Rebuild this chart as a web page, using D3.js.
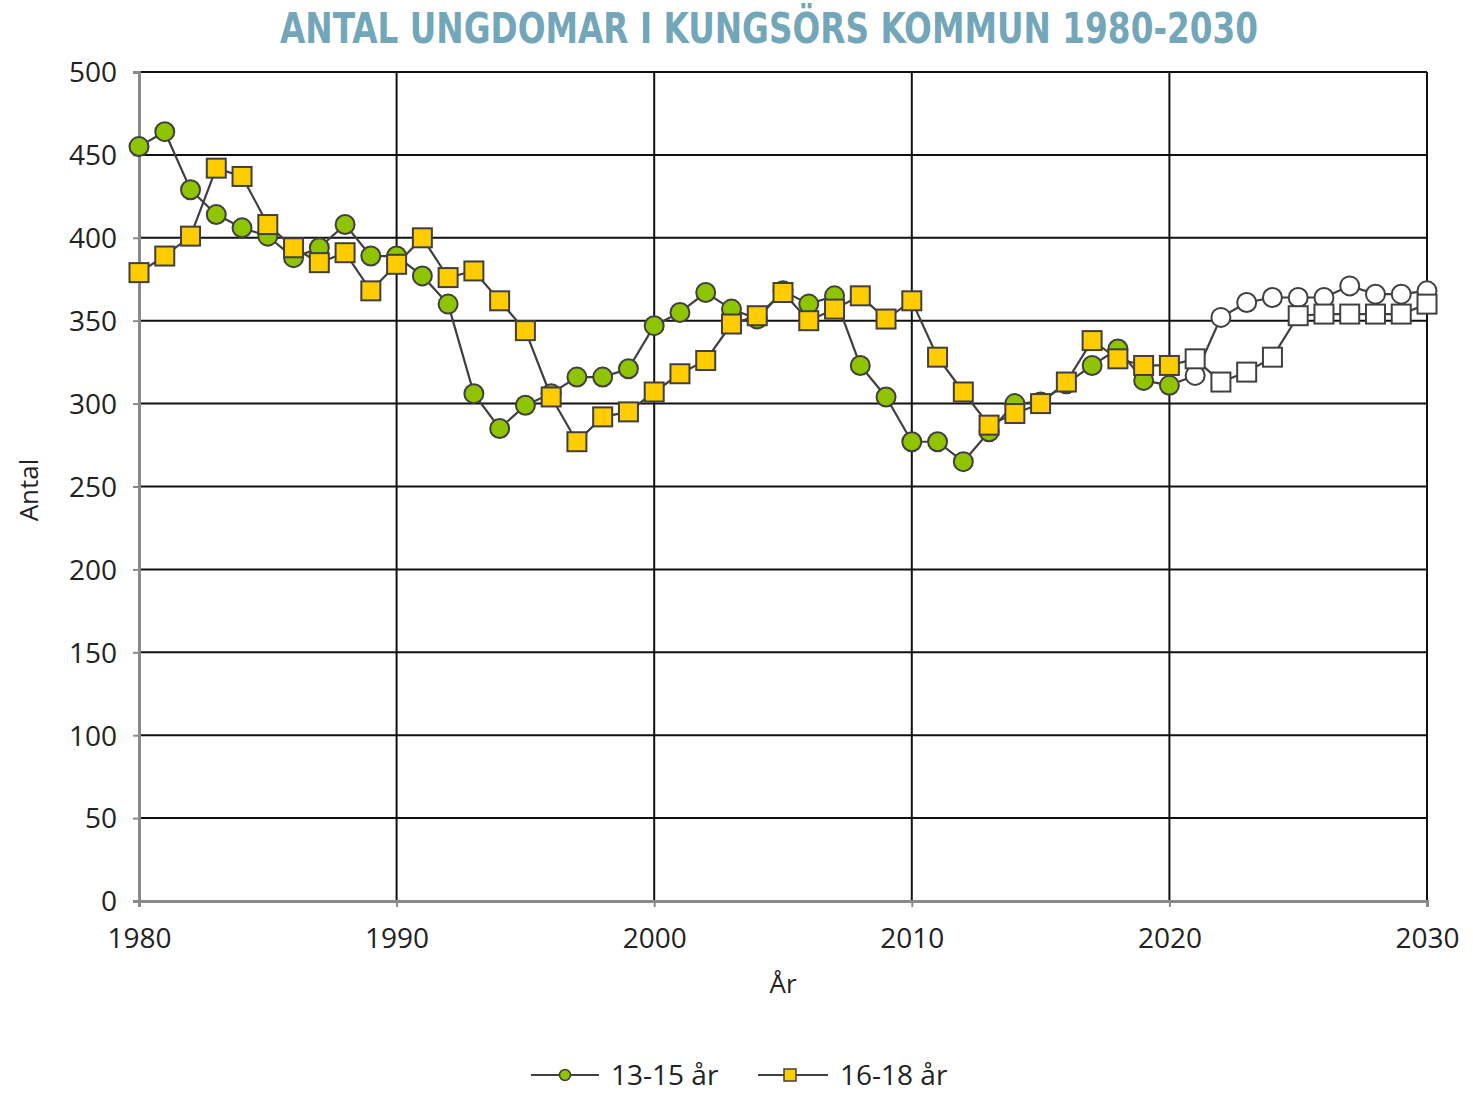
<!DOCTYPE html>
<html><head><meta charset="utf-8">
<script src="https://cdn.jsdelivr.net/npm/d3@7"></script>
<style>body{margin:0;background:#fff}</style>
</head><body>
<script>
const years = d3.range(1980, 2031);
const lastActual = 2020;
const age1315 = [455,464,429,414,406,401,388,394,408,389,389,377,360,306,285,299,306,316,316,321,347,355,367,357,351,368,360,365,323,304,277,277,265,283,300,301,312,323,333,314,311,317,352,361,364,364,364,371,366,366,368];
const age1618 = [379,389,401,442,437,408,394,385,391,368,384,400,376,380,362,344,304,277,292,295,307,318,326,348,353,367,350,357,365,351,362,328,307,287,294,300,313,338,327,323,323,327,313,319,328,353,354,354,354,354,360];
const yTicks = [0,50,100,150,200,250,300,350,400,450,500];
const xTicks = [1980,1990,2000,2010,2020,2030];
const seriesNames = ["13-15 år","16-18 år"];
const title = "ANTAL UNGDOMAR I KUNGSÖRS KOMMUN 1980-2030";

const W=1473,H=1095;
const svg=d3.select("body").append("svg").attr("width",W).attr("height",H);
const x=d3.scaleLinear().domain([1980,2030]).range([139,1427]);
const y=d3.scaleLinear().domain([0,500]).range([901,72]);
const font="'Open Sans', sans-serif";
const lineCol="#404040";

// grid
svg.append("g").selectAll("line").data(yTicks.filter(d=>d>0)).join("line")
  .attr("x1",139).attr("x2",1427).attr("y1",d=>y(d)).attr("y2",d=>y(d))
  .attr("stroke","#111").attr("stroke-width",2);
svg.append("g").selectAll("line").data(xTicks.filter(d=>d>1980)).join("line")
  .attr("y1",72).attr("y2",901).attr("x1",d=>x(d)).attr("x2",d=>x(d))
  .attr("stroke","#111").attr("stroke-width",2);

// axes
const ya=svg.append("g").attr("transform","translate(139,0)")
  .call(d3.axisLeft(y).tickValues(yTicks).tickSize(6).tickPadding(16));
const xa=svg.append("g").attr("transform","translate(0,901)")
  .call(d3.axisBottom(x).tickValues(xTicks).tickFormat(d3.format("d")).tickSize(6).tickPadding(21));
[ya,xa].forEach(a=>{
  a.select(".domain").attr("stroke","#8a8a8a").attr("stroke-width",3);
  a.selectAll(".tick line").attr("stroke","#8a8a8a").attr("stroke-width",2);
  a.selectAll("text").attr("font-family",font).attr("font-size",28).attr("fill","#222");
});
ya.selectAll(".tick text").attr("dy","0.35em");

// series
const d1=years.map((yr,i)=>({yr,v:age1315[i]}));
const d2=years.map((yr,i)=>({yr,v:age1618[i]}));
const line=d3.line().x(d=>x(d.yr)).y(d=>y(d.v));
[d1,d2].forEach((data,si)=>{
  svg.append("path").datum(data).attr("d",line).attr("fill","none")
    .attr("stroke",lineCol).attr("stroke-width",2.2);
});
svg.append("g").selectAll("circle").data(d1).join("circle")
  .attr("cx",d=>x(d.yr)).attr("cy",d=>y(d.v)).attr("r",9.5)
  .attr("fill",d=>d.yr>lastActual?"#fff":"#8fc400").attr("stroke",lineCol).attr("stroke-width",2);
svg.append("g").selectAll("rect").data(d2).join("rect")
  .attr("x",d=>x(d.yr)-9.5).attr("y",d=>y(d.v)-9.5).attr("width",19).attr("height",19)
  .attr("fill",d=>d.yr>lastActual?"#fff":"#ffcc00").attr("stroke",lineCol).attr("stroke-width",2);

// titles
svg.append("text").attr("x",769).attr("y",43).attr("text-anchor","middle")
  .attr("font-family","'Liberation Sans Narrow','DejaVu Sans Condensed',sans-serif")
  .attr("font-weight","600").attr("font-size",42).attr("fill","#72a6b8")
  .attr("textLength",978).attr("lengthAdjust","spacingAndGlyphs").text(title);
svg.append("text").attr("transform","translate(38,490) rotate(-90)").attr("text-anchor","middle")
  .attr("font-family",font).attr("font-size",26).attr("fill","#222").text("Antal");
svg.append("text").attr("x",783).attr("y",993).attr("text-anchor","middle")
  .attr("font-family",font).attr("font-size",26).attr("fill","#222").text("År");

// legend
const lg=svg.append("g");
const ly=1075;
lg.append("line").attr("x1",531).attr("x2",599).attr("y1",ly).attr("y2",ly).attr("stroke",lineCol).attr("stroke-width",2);
lg.append("circle").attr("cx",565).attr("cy",ly).attr("r",5.5).attr("fill","#8fc400").attr("stroke",lineCol).attr("stroke-width",1.5);
lg.append("text").attr("x",611).attr("y",ly).attr("dy","0.35em").attr("font-family",font).attr("font-size",28).attr("fill","#222").text(seriesNames[0]);
lg.append("line").attr("x1",758).attr("x2",828).attr("y1",ly).attr("y2",ly).attr("stroke",lineCol).attr("stroke-width",2);
lg.append("rect").attr("x",784).attr("y",ly-6).attr("width",12).attr("height",12).attr("fill","#ffcc00").attr("stroke",lineCol).attr("stroke-width",1.5);
lg.append("text").attr("x",840).attr("y",ly).attr("dy","0.35em").attr("font-family",font).attr("font-size",28).attr("fill","#222").text(seriesNames[1]);
</script>
</body></html>
